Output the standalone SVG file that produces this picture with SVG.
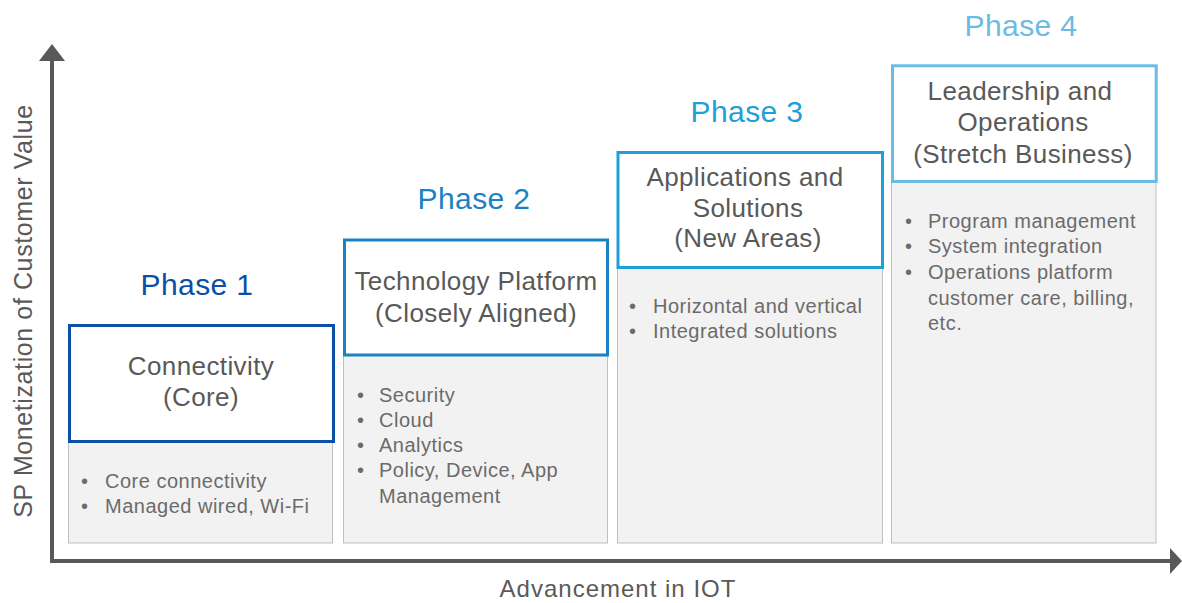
<svg xmlns="http://www.w3.org/2000/svg" width="1182" height="603" viewBox="0 0 1182 603">
<style>
text{font-family:"Liberation Sans",Arial,sans-serif}
.ph{font-size:30px;text-anchor:middle;letter-spacing:0.4px}
.ti{font-size:26px;fill:#595959;text-anchor:middle;letter-spacing:0.4px}
.bu{font-size:20px;fill:#6b6b6b;letter-spacing:0.5px}
.gray{fill:#f2f2f2;stroke:#bfbfbf;stroke-width:1}
.hd{fill:#ffffff;stroke-width:3}
.ax{stroke:#595959;stroke-width:4;fill:none}
.ah{fill:#595959}
.lbl{font-size:24px;fill:#595959;letter-spacing:1px}
</style>
<rect width="1182" height="603" fill="#ffffff"/>
<g id="connectors">
<line class="ax" x1="52" y1="561" x2="52" y2="58"/>
<polygon class="ah" points="52,44 39,61 65,61"/>
<line class="ax" x1="50" y1="561" x2="1172" y2="561"/>
<polygon class="ah" points="1182,561 1170,548 1170,574"/>
</g>
<g id="axis-labels">
<text class="lbl" x="618" y="597" text-anchor="middle">Advancement in IOT</text>
<text class="lbl" style="font-size:25px;letter-spacing:0.6px" transform="translate(32,311) rotate(-90)" text-anchor="middle">SP Monetization of Customer Value</text>
</g>
<g id="phase1">
<text class="ph" x="197" y="295" fill="#0a50a6">Phase 1</text>
<rect class="gray" x="68.5" y="442" width="264" height="101"/>
<rect class="hd" x="69.5" y="325.5" width="264" height="116" stroke="#0a50a6"/>
<text class="ti" x="201" y="375">Connectivity</text>
<text class="ti" x="201" y="406">(Core)</text>
<text class="bu" x="81" y="488">•</text><text class="bu" x="105" y="488">Core connectivity</text>
<text class="bu" x="81" y="513">•</text><text class="bu" x="105" y="513">Managed wired, Wi-Fi</text>
</g>
<g id="phase2">
<text class="ph" x="474" y="209" fill="#1a82c4">Phase 2</text>
<rect class="gray" x="343.5" y="355" width="264" height="188"/>
<rect class="hd" x="344.5" y="240" width="263" height="115" stroke="#1a82c4"/>
<text class="ti" x="476" y="290">Technology Platform</text>
<text class="ti" x="476" y="322">(Closely Aligned)</text>
<text class="bu" x="357" y="402">•</text><text class="bu" x="379" y="402">Security</text>
<text class="bu" x="357" y="427">•</text><text class="bu" x="379" y="427">Cloud</text>
<text class="bu" x="357" y="452">•</text><text class="bu" x="379" y="452">Analytics</text>
<text class="bu" x="357" y="477">•</text><text class="bu" x="379" y="477">Policy, Device, App</text>
<text class="bu" x="379" y="503">Management</text>
</g>
<g id="phase3">
<text class="ph" x="747" y="122" fill="#1f9fd8">Phase 3</text>
<rect class="gray" x="617.5" y="268" width="265" height="275"/>
<rect class="hd" x="618" y="152.5" width="264.5" height="115" stroke="#1f9fd8"/>
<text class="ti" x="745" y="186">Applications and</text>
<text class="ti" x="748" y="217">Solutions</text>
<text class="ti" x="748" y="247">(New Areas)</text>
<text class="bu" x="629" y="313">•</text><text class="bu" x="653" y="313">Horizontal and vertical</text>
<text class="bu" x="629" y="338">•</text><text class="bu" x="653" y="338">Integrated solutions</text>
</g>
<g id="phase4">
<text class="ph" x="1021" y="36" fill="#6bbbe3">Phase 4</text>
<rect class="gray" x="891.5" y="182" width="264.5" height="361"/>
<rect class="hd" x="892.5" y="65.8" width="263.7" height="115.7" stroke="#6bbbe3"/>
<text class="ti" x="1020" y="100">Leadership and</text>
<text class="ti" x="1023" y="131">Operations</text>
<text class="ti" x="1023" y="163">(Stretch Business)</text>
<text class="bu" x="905" y="228">•</text><text class="bu" x="928" y="228">Program management</text>
<text class="bu" x="905" y="253">•</text><text class="bu" x="928" y="253">System integration</text>
<text class="bu" x="905" y="279">•</text><text class="bu" x="928" y="279">Operations platform</text>
<text class="bu" x="928" y="305">customer care, billing,</text>
<text class="bu" x="928" y="330">etc.</text>
</g>
</svg>
